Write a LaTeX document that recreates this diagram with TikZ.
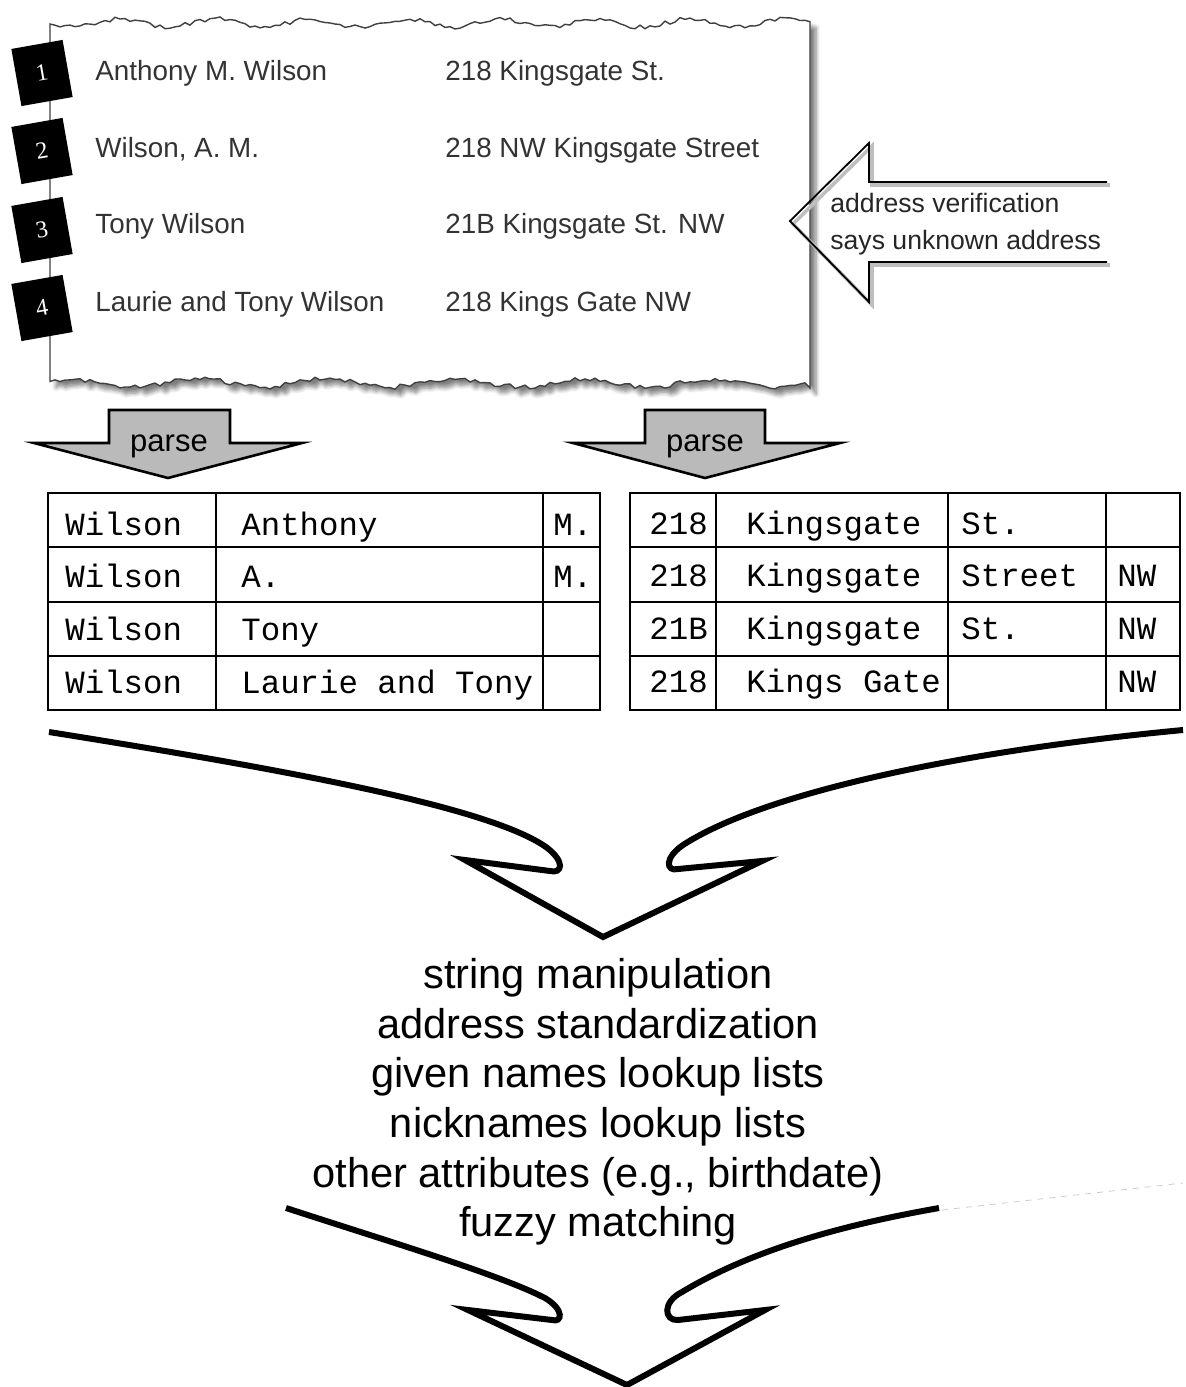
\documentclass[tikz,border=0pt]{standalone}
\usepackage{fontspec}
\setmainfont{Liberation Sans}
\setmonofont{Liberation Mono}
\newfontfamily\numfont{Liberation Serif}
\usetikzlibrary{positioning,shadows.blur}

\begin{document}
\begin{tikzpicture}[
    x=0.5pt, y=-0.5pt,
    paper/.style={draw=black!75, fill=white, line width=0.7pt, blur shadow={shadow xshift=3pt, shadow yshift=-3pt, shadow blur steps=6, shadow opacity=50}},
    badge/.style={fill=black, minimum width=26pt, minimum height=29pt, inner sep=0pt, rotate=10, text=white, font=\numfont\fontsize{12}{12}\selectfont},
    entry/.style={anchor=base west, inner sep=0pt, text=black!80, font=\fontsize{13.9}{18.5}\selectfont},
    note/.style={anchor=base west, inner sep=0pt, align=left, text=black!85, font=\fontsize{13.3}{18.5}\selectfont},
    cell/.style={anchor=base west, inner sep=0pt, font=\ttfamily\fontsize{16.2}{18}\selectfont},
    grid/.style={line width=1pt},
    parsearrow/.style={draw, line width=1.3pt, fill=black!27, line join=miter},
    parselabel/.style={anchor=base, inner sep=0pt, font=\fontsize{15.5}{17}\selectfont},
    hollow/.style={draw, line width=0.9pt, preaction={draw=black!25, line width=1.8pt, transform canvas={shift={(1.5pt,-1.5pt)}}}},
    funnel/.style={draw, line width=3pt},
    tools/.style={align=center, inner sep=0pt, font=\fontsize{20.8}{24.8}\selectfont}
]
    \useasboundingbox (0,0) rectangle (1185,1387);

    % Torn sheet with the four records
    \pgfmathsetseed{3}
    \draw[paper] (50,24)
        \foreach \i in {1,...,152} { -- ({50+\i*5}, {23+4*sin(\i*19)+2.2*rand}) }
        -- (810,388)
        \foreach \i in {1,...,152} { -- ({810-\i*5}, {383+4*sin(\i*14)+2.5*rand}) }
        -- cycle;

    \foreach \n/\y in {1/73, 2/151, 3/230, 4/308}
        \node[badge] (badge\n) at (42,\y) {\n};

    \node[entry] (name1) at (95,80) {Anthony M. Wilson};
    \node[entry] (name2) at (95,157) {Wilson, A. M.};
    \node[entry] (name3) at (95,233) {Tony Wilson};
    \node[entry] (name4) at (95,311) {Laurie and Tony Wilson};

    \node[entry] (addr1) at (445,80) {218 Kingsgate St.};
    \node[entry] (addr2) at (445,157) {218 NW Kingsgate Street};
    \node[entry] (addr3) at (445,233) {21B Kingsgate St. NW};
    \node[entry] (addr4) at (445,311) {218 Kings Gate NW};

    % Verification arrow
    \draw[hollow] (1107,182) -- (869,182) -- (869,143) -- (790,221) -- (869,302) -- (869,262) -- (1107,262);
    \node[note] (verify) at (830,249) {address verification\\says unknown address};

    % Parse arrows
    \draw[parsearrow] (109,410) -- (230,410) -- (230,443) -- (302,443) -- (168,478) -- (34,443) -- (109,443) -- cycle;
    \node[parselabel] (parseL) at (169,451) {parse};
    \draw[parsearrow] (645,410) -- (765,410) -- (765,443) -- (840,443) -- (705,478) -- (573,443) -- (645,443) -- cycle;
    \node[parselabel] (parseR) at (705,451) {parse};

    % Parsed names
    \draw[grid] (48,493) rectangle (600,710);
    \foreach \x in {216,543} \draw[grid] (\x,493) -- (\x,710);
    \foreach \y in {547,602,656} \draw[grid] (48,\y) -- (600,\y);
    \foreach \r/\y/\a/\b/\c in {1/535/Wilson/Anthony/M., 2/587/Wilson/A./M., 3/640/Wilson/Tony/{}, 4/693/Wilson/Laurie and Tony/{}} {
        \node[cell] (last\r) at (65,\y) {\a};
        \node[cell] (first\r) at (241,\y) {\b};
        \node[cell] (mid\r) at (553,\y) {\c};
    }

    % Parsed addresses
    \draw[grid] (630,493) rectangle (1180,710);
    \foreach \x in {716,948,1106} \draw[grid] (\x,493) -- (\x,710);
    \foreach \y in {547,602,656} \draw[grid] (630,\y) -- (1180,\y);
    \foreach \r/\y/\a/\b/\c/\d in {1/534/218/Kingsgate/St./{}, 2/586/218/Kingsgate/Street/NW, 3/639/21B/Kingsgate/St./NW, 4/692/218/Kings Gate/{}/NW} {
        \node[cell] (num\r) at (649,\y) {\a};
        \node[cell] (street\r) at (746,\y) {\b};
        \node[cell] (type\r) at (961,\y) {\c};
        \node[cell] (dir\r) at (1117,\y) {\d};
    }

    % Merging arrows
    \draw[funnel] (49,732) .. controls (300,772) and (490,808) .. (546,847)
        .. controls (566,862) and (562,874) .. (550,871)
        -- (465,860) -- (603,937) -- (762,861) -- (678,869)
        .. controls (666,872) and (664,858) .. (683,845)
        .. controls (760,795) and (950,752) .. (1183,730);

    \node[tools] (tools) at (598,1102) {string manipulation\\address standardization\\given names lookup lists\\nicknames lookup lists\\other attributes (e.g., birthdate)\\fuzzy matching};

    \draw[funnel] (286,1208) .. controls (400,1245) and (500,1275) .. (545,1298)
        .. controls (565,1310) and (562,1323) .. (552,1320)
        -- (468,1310) -- (627,1385) -- (765,1310) -- (678,1320)
        .. controls (664,1321) and (662,1302) .. (682,1292)
        .. controls (760,1245) and (860,1222) .. (939,1208);
    \draw[black!20, dashed, line width=0.4pt] (942,1210) -- (1183,1183);
\end{tikzpicture}
\end{document}
